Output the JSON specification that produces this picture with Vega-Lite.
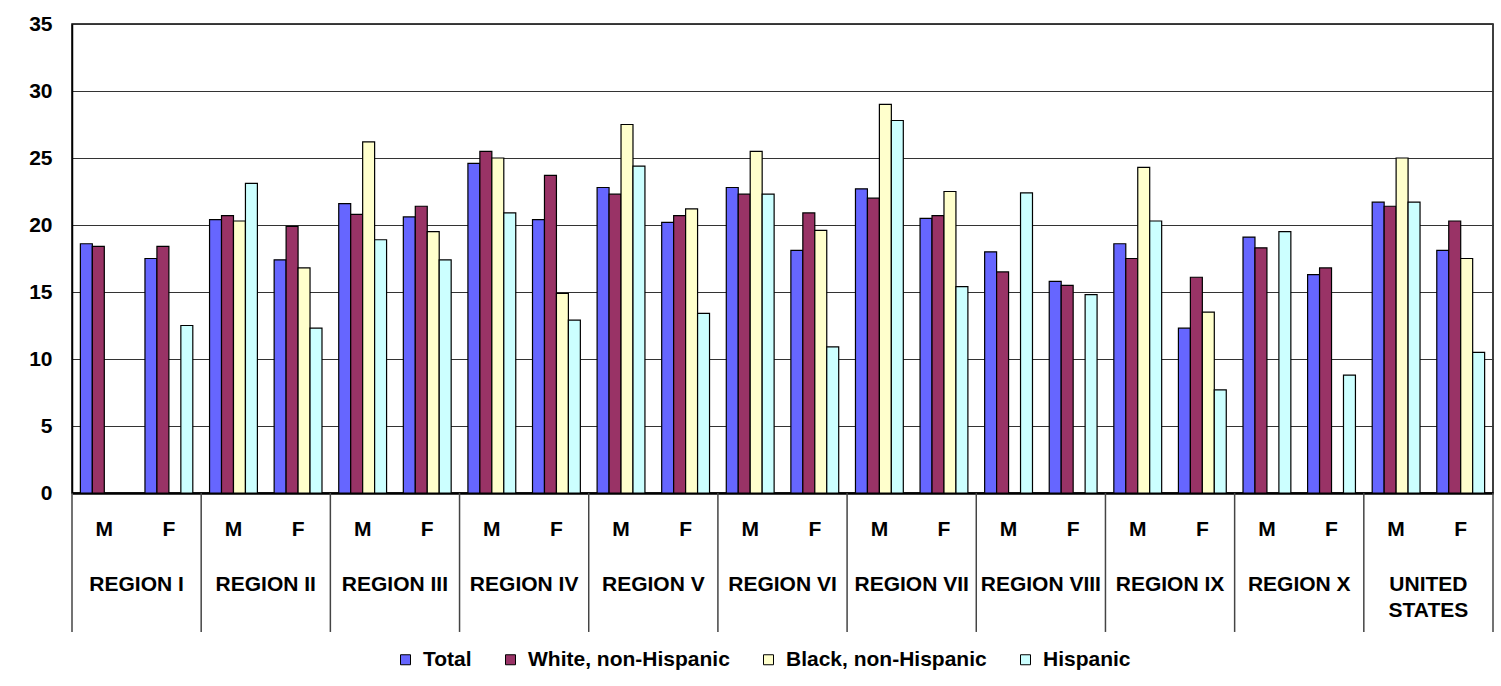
{
  "$schema": "https://vega.github.io/schema/vega-lite/v6.json",
  "width": 1421,
  "height": 469,
  "autosize": {"type": "none"},
  "padding": {"left": 72, "top": 24, "right": 8, "bottom": 193},
  "background": "white",
  "config": {
    "font": "Liberation Sans",
    "view": {"stroke": "black", "strokeWidth": 1.5}
  },
  "data": {
    "values": [
      {"group": "REGION I|M", "region": "REGION I", "sex": "M", "race": "Total", "value": 18.6},
      {"group": "REGION I|M", "region": "REGION I", "sex": "M", "race": "White, non-Hispanic", "value": 18.4},
      {"group": "REGION I|F", "region": "REGION I", "sex": "F", "race": "Total", "value": 17.5},
      {"group": "REGION I|F", "region": "REGION I", "sex": "F", "race": "White, non-Hispanic", "value": 18.4},
      {"group": "REGION I|F", "region": "REGION I", "sex": "F", "race": "Hispanic", "value": 12.5},
      {"group": "REGION II|M", "region": "REGION II", "sex": "M", "race": "Total", "value": 20.4},
      {"group": "REGION II|M", "region": "REGION II", "sex": "M", "race": "White, non-Hispanic", "value": 20.7},
      {"group": "REGION II|M", "region": "REGION II", "sex": "M", "race": "Black, non-Hispanic", "value": 20.3},
      {"group": "REGION II|M", "region": "REGION II", "sex": "M", "race": "Hispanic", "value": 23.1},
      {"group": "REGION II|F", "region": "REGION II", "sex": "F", "race": "Total", "value": 17.4},
      {"group": "REGION II|F", "region": "REGION II", "sex": "F", "race": "White, non-Hispanic", "value": 19.9},
      {"group": "REGION II|F", "region": "REGION II", "sex": "F", "race": "Black, non-Hispanic", "value": 16.8},
      {"group": "REGION II|F", "region": "REGION II", "sex": "F", "race": "Hispanic", "value": 12.3},
      {"group": "REGION III|M", "region": "REGION III", "sex": "M", "race": "Total", "value": 21.6},
      {"group": "REGION III|M", "region": "REGION III", "sex": "M", "race": "White, non-Hispanic", "value": 20.8},
      {"group": "REGION III|M", "region": "REGION III", "sex": "M", "race": "Black, non-Hispanic", "value": 26.2},
      {"group": "REGION III|M", "region": "REGION III", "sex": "M", "race": "Hispanic", "value": 18.9},
      {"group": "REGION III|F", "region": "REGION III", "sex": "F", "race": "Total", "value": 20.6},
      {"group": "REGION III|F", "region": "REGION III", "sex": "F", "race": "White, non-Hispanic", "value": 21.4},
      {"group": "REGION III|F", "region": "REGION III", "sex": "F", "race": "Black, non-Hispanic", "value": 19.5},
      {"group": "REGION III|F", "region": "REGION III", "sex": "F", "race": "Hispanic", "value": 17.4},
      {"group": "REGION IV|M", "region": "REGION IV", "sex": "M", "race": "Total", "value": 24.6},
      {"group": "REGION IV|M", "region": "REGION IV", "sex": "M", "race": "White, non-Hispanic", "value": 25.5},
      {"group": "REGION IV|M", "region": "REGION IV", "sex": "M", "race": "Black, non-Hispanic", "value": 25.0},
      {"group": "REGION IV|M", "region": "REGION IV", "sex": "M", "race": "Hispanic", "value": 20.9},
      {"group": "REGION IV|F", "region": "REGION IV", "sex": "F", "race": "Total", "value": 20.4},
      {"group": "REGION IV|F", "region": "REGION IV", "sex": "F", "race": "White, non-Hispanic", "value": 23.7},
      {"group": "REGION IV|F", "region": "REGION IV", "sex": "F", "race": "Black, non-Hispanic", "value": 14.9},
      {"group": "REGION IV|F", "region": "REGION IV", "sex": "F", "race": "Hispanic", "value": 12.9},
      {"group": "REGION V|M", "region": "REGION V", "sex": "M", "race": "Total", "value": 22.8},
      {"group": "REGION V|M", "region": "REGION V", "sex": "M", "race": "White, non-Hispanic", "value": 22.3},
      {"group": "REGION V|M", "region": "REGION V", "sex": "M", "race": "Black, non-Hispanic", "value": 27.5},
      {"group": "REGION V|M", "region": "REGION V", "sex": "M", "race": "Hispanic", "value": 24.4},
      {"group": "REGION V|F", "region": "REGION V", "sex": "F", "race": "Total", "value": 20.2},
      {"group": "REGION V|F", "region": "REGION V", "sex": "F", "race": "White, non-Hispanic", "value": 20.7},
      {"group": "REGION V|F", "region": "REGION V", "sex": "F", "race": "Black, non-Hispanic", "value": 21.2},
      {"group": "REGION V|F", "region": "REGION V", "sex": "F", "race": "Hispanic", "value": 13.4},
      {"group": "REGION VI|M", "region": "REGION VI", "sex": "M", "race": "Total", "value": 22.8},
      {"group": "REGION VI|M", "region": "REGION VI", "sex": "M", "race": "White, non-Hispanic", "value": 22.3},
      {"group": "REGION VI|M", "region": "REGION VI", "sex": "M", "race": "Black, non-Hispanic", "value": 25.5},
      {"group": "REGION VI|M", "region": "REGION VI", "sex": "M", "race": "Hispanic", "value": 22.3},
      {"group": "REGION VI|F", "region": "REGION VI", "sex": "F", "race": "Total", "value": 18.1},
      {"group": "REGION VI|F", "region": "REGION VI", "sex": "F", "race": "White, non-Hispanic", "value": 20.9},
      {"group": "REGION VI|F", "region": "REGION VI", "sex": "F", "race": "Black, non-Hispanic", "value": 19.6},
      {"group": "REGION VI|F", "region": "REGION VI", "sex": "F", "race": "Hispanic", "value": 10.9},
      {"group": "REGION VII|M", "region": "REGION VII", "sex": "M", "race": "Total", "value": 22.7},
      {"group": "REGION VII|M", "region": "REGION VII", "sex": "M", "race": "White, non-Hispanic", "value": 22.0},
      {"group": "REGION VII|M", "region": "REGION VII", "sex": "M", "race": "Black, non-Hispanic", "value": 29.0},
      {"group": "REGION VII|M", "region": "REGION VII", "sex": "M", "race": "Hispanic", "value": 27.8},
      {"group": "REGION VII|F", "region": "REGION VII", "sex": "F", "race": "Total", "value": 20.5},
      {"group": "REGION VII|F", "region": "REGION VII", "sex": "F", "race": "White, non-Hispanic", "value": 20.7},
      {"group": "REGION VII|F", "region": "REGION VII", "sex": "F", "race": "Black, non-Hispanic", "value": 22.5},
      {"group": "REGION VII|F", "region": "REGION VII", "sex": "F", "race": "Hispanic", "value": 15.4},
      {"group": "REGION VIII|M", "region": "REGION VIII", "sex": "M", "race": "Total", "value": 18.0},
      {"group": "REGION VIII|M", "region": "REGION VIII", "sex": "M", "race": "White, non-Hispanic", "value": 16.5},
      {"group": "REGION VIII|M", "region": "REGION VIII", "sex": "M", "race": "Hispanic", "value": 22.4},
      {"group": "REGION VIII|F", "region": "REGION VIII", "sex": "F", "race": "Total", "value": 15.8},
      {"group": "REGION VIII|F", "region": "REGION VIII", "sex": "F", "race": "White, non-Hispanic", "value": 15.5},
      {"group": "REGION VIII|F", "region": "REGION VIII", "sex": "F", "race": "Hispanic", "value": 14.8},
      {"group": "REGION IX|M", "region": "REGION IX", "sex": "M", "race": "Total", "value": 18.6},
      {"group": "REGION IX|M", "region": "REGION IX", "sex": "M", "race": "White, non-Hispanic", "value": 17.5},
      {"group": "REGION IX|M", "region": "REGION IX", "sex": "M", "race": "Black, non-Hispanic", "value": 24.3},
      {"group": "REGION IX|M", "region": "REGION IX", "sex": "M", "race": "Hispanic", "value": 20.3},
      {"group": "REGION IX|F", "region": "REGION IX", "sex": "F", "race": "Total", "value": 12.3},
      {"group": "REGION IX|F", "region": "REGION IX", "sex": "F", "race": "White, non-Hispanic", "value": 16.1},
      {"group": "REGION IX|F", "region": "REGION IX", "sex": "F", "race": "Black, non-Hispanic", "value": 13.5},
      {"group": "REGION IX|F", "region": "REGION IX", "sex": "F", "race": "Hispanic", "value": 7.7},
      {"group": "REGION X|M", "region": "REGION X", "sex": "M", "race": "Total", "value": 19.1},
      {"group": "REGION X|M", "region": "REGION X", "sex": "M", "race": "White, non-Hispanic", "value": 18.3},
      {"group": "REGION X|M", "region": "REGION X", "sex": "M", "race": "Hispanic", "value": 19.5},
      {"group": "REGION X|F", "region": "REGION X", "sex": "F", "race": "Total", "value": 16.3},
      {"group": "REGION X|F", "region": "REGION X", "sex": "F", "race": "White, non-Hispanic", "value": 16.8},
      {"group": "REGION X|F", "region": "REGION X", "sex": "F", "race": "Hispanic", "value": 8.8},
      {"group": "UNITED STATES|M", "region": "UNITED STATES", "sex": "M", "race": "Total", "value": 21.7},
      {"group": "UNITED STATES|M", "region": "UNITED STATES", "sex": "M", "race": "White, non-Hispanic", "value": 21.4},
      {"group": "UNITED STATES|M", "region": "UNITED STATES", "sex": "M", "race": "Black, non-Hispanic", "value": 25.0},
      {"group": "UNITED STATES|M", "region": "UNITED STATES", "sex": "M", "race": "Hispanic", "value": 21.7},
      {"group": "UNITED STATES|F", "region": "UNITED STATES", "sex": "F", "race": "Total", "value": 18.1},
      {"group": "UNITED STATES|F", "region": "UNITED STATES", "sex": "F", "race": "White, non-Hispanic", "value": 20.3},
      {"group": "UNITED STATES|F", "region": "UNITED STATES", "sex": "F", "race": "Black, non-Hispanic", "value": 17.5},
      {"group": "UNITED STATES|F", "region": "UNITED STATES", "sex": "F", "race": "Hispanic", "value": 10.5}
    ]
  },
  "encoding": {
    "x": {
      "field": "group",
      "type": "nominal",
      "scale": {
        "domain": ["REGION I|M", "REGION I|F", "REGION II|M", "REGION II|F", "REGION III|M", "REGION III|F", "REGION IV|M", "REGION IV|F", "REGION V|M", "REGION V|F", "REGION VI|M", "REGION VI|F", "REGION VII|M", "REGION VII|F", "REGION VIII|M", "REGION VIII|F", "REGION IX|M", "REGION IX|F", "REGION X|M", "REGION X|F", "UNITED STATES|M", "UNITED STATES|F"],
        "paddingInner": 0,
        "paddingOuter": 0
      },
      "axis": {
        "title": null,
        "labelExpr": "slice(datum.value, -1)",
        "labelAngle": 0,
        "labelFont": "Liberation Sans",
        "labelFontSize": 21,
        "labelFontWeight": "bold",
        "labelColor": "black",
        "labelPadding": 25,
        "ticks": false,
        "domainColor": "black",
        "domainWidth": 2.5,
        "grid": false
      }
    }
  },
  "layer": [
    {
      "mark": {"type": "bar", "stroke": "black", "strokeWidth": 1.2},
      "encoding": {
        "xOffset": {
          "field": "race",
          "type": "nominal",
          "scale": {
            "domain": ["Total", "White, non-Hispanic", "Black, non-Hispanic", "Hispanic"],
            "paddingInner": 0,
            "paddingOuter": 0.7
          }
        },
        "y": {
          "field": "value",
          "type": "quantitative",
          "scale": {"domain": [0, 35], "nice": false},
          "axis": {
            "title": null,
            "values": [0, 5, 10, 15, 20, 25, 30, 35],
            "labelFont": "Liberation Sans",
            "labelFontSize": 21,
            "labelFontWeight": "bold",
            "labelColor": "black",
            "labelPadding": 20,
            "ticks": false,
            "domainColor": "black",
            "domainWidth": 1.5,
            "grid": true,
            "gridColor": "#333333",
            "gridWidth": 1.2,
            "gridOpacity": 1
          }
        },
        "color": {
          "field": "race",
          "type": "nominal",
          "scale": {
            "domain": ["Total", "White, non-Hispanic", "Black, non-Hispanic", "Hispanic"],
            "range": ["#6666FF", "#993366", "#FFFFCC", "#CCFFFF"]
          },
          "legend": {
            "orient": "none",
            "legendX": 323,
            "legendY": 625,
            "direction": "horizontal",
            "title": null,
            "symbolType": "square",
            "symbolSize": 100,
            "symbolStrokeColor": "black",
            "symbolStrokeWidth": 1,
            "symbolOpacity": 1,
            "labelFont": "Liberation Sans",
            "labelFontSize": 21,
            "labelFontWeight": "bold",
            "labelColor": "black",
            "labelOffset": 7,
            "columnPadding": 28,
            "labelLimit": 400
          }
        }
      }
    },
    {
      "transform": [{"filter": "datum.race === 'Total' && datum.sex === 'M'"}],
      "mark": {"type": "rule", "color": "#444444", "strokeWidth": 1.5},
      "encoding": {
        "x": {"field": "group", "type": "nominal", "bandPosition": 0},
        "y": {"datum": 0, "type": "quantitative"},
        "y2": {"datum": -10.37}
      }
    },
    {
      "transform": [{"filter": "datum.race === 'Total' && datum.group === 'UNITED STATES|F'"}],
      "mark": {"type": "rule", "color": "#444444", "strokeWidth": 1.5},
      "encoding": {
        "x": {"field": "group", "type": "nominal", "bandPosition": 1},
        "y": {"datum": 0, "type": "quantitative"},
        "y2": {"datum": -10.37}
      }
    },
    {
      "transform": [{"filter": "datum.race === 'Total' && datum.sex === 'F'"}],
      "mark": {
        "type": "text",
        "font": "Liberation Sans",
        "fontSize": 21,
        "fontWeight": "bold",
        "color": "black",
        "align": "center",
        "baseline": "top",
        "lineHeight": 25.5
      },
      "encoding": {
        "x": {"field": "group", "type": "nominal", "bandPosition": 0},
        "y": {"datum": -6.06, "type": "quantitative"},
        "text": {
          "condition": {"test": "datum.region === 'UNITED STATES'", "value": ["UNITED", "STATES"]},
          "field": "region",
          "type": "nominal"
        }
      }
    }
  ]
}
